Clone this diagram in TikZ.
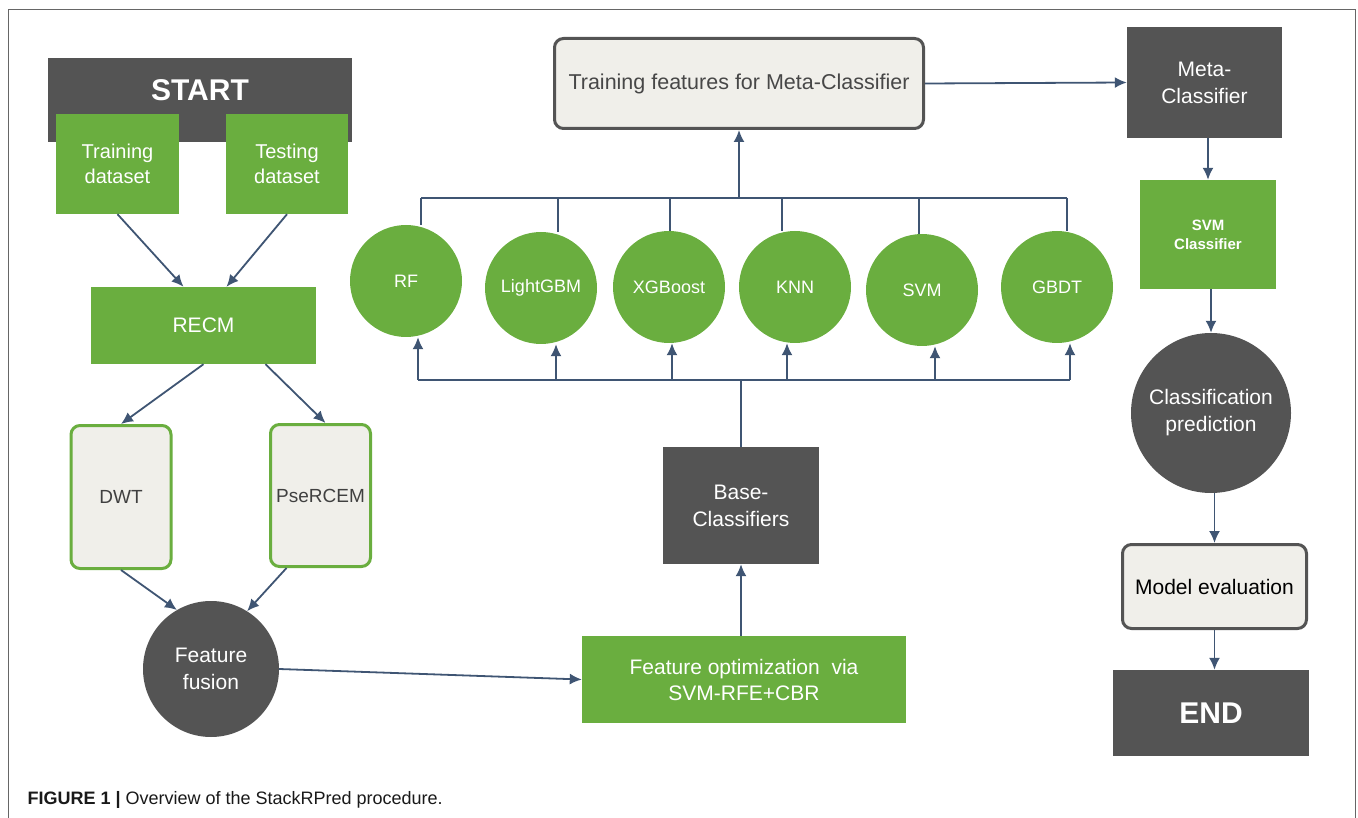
\documentclass[tikz,border=0pt]{standalone}
\usepackage{fontspec}
\setmainfont{Liberation Sans}
\usepackage{tikz}
\usetikzlibrary{arrows.meta, positioning}
\definecolor{leafgreen}{HTML}{6AAE3F}
\definecolor{slate}{HTML}{545454}
\definecolor{paper}{HTML}{F0EFEA}
\definecolor{wire}{HTML}{3F5573}
\newcommand{\fsz}[2]{\fontsize{#1}{#2}\selectfont}
\tikzset{
greenbox/.style={rectangle, fill=leafgreen, text=white, inner sep=0pt, align=center, font=\fsz{20}{25}},
darkbox/.style={rectangle, fill=slate, text=white, inner sep=0pt, align=center, font=\fsz{21}{27}},
softbox/.style={rectangle, rounded corners=9pt, fill=paper, line width=3pt, inner sep=0pt, align=center},
learner/.style={circle, fill=leafgreen, text=white, minimum size=112pt, inner sep=0pt, font=\fsz{18}{21}},
blob/.style={circle, fill=slate, text=white, inner sep=0pt, align=center, font=\fsz{21}{27}},
flow/.style={-{Latex[length=12pt,width=11pt]}, color=wire, line width=1.8pt}, % edges with solid heads
link/.style={color=wire, line width=1.8pt}, % plain bus lines
}
\begin{document}
\begin{tikzpicture}[x=1pt, y=-1pt]
  \useasboundingbox (0,0) rectangle (1358,818);
  \draw[black!60, line width=1pt] (8,818) -- (8,10) -- (1355,10) -- (1355,818);%frame

  % left column
  \node[darkbox, minimum width=304pt, minimum height=84pt] (start) at (200,100) {};
  \node[text=white, font=\bfseries\fsz{30}{30}] (starttag) at (200,90) {START};
  \node[greenbox, minimum width=123pt, minimum height=100pt] (train) at (117.5,164) {Training\\dataset};
  \node[greenbox, minimum width=122pt, minimum height=100pt] (test) at (287,164) {Testing\\dataset};
  \node[greenbox, minimum width=225pt, minimum height=77pt, font=\fsz{21}{27}] (recm) at (203.5,325.5) {RECM};
  \node[softbox, draw=leafgreen, minimum width=100pt, minimum height=143pt, text=black!75, font=\fsz{19}{23}] (dwt) at (121,497) {DWT};
  \node[softbox, draw=leafgreen, minimum width=100pt, minimum height=142pt, text=black!75, font=\fsz{19}{23}] (pse) at (320.5,495.5) {PseRCEM};
  \node[blob, minimum size=136pt] (fusion) at (211,669) {Feature\\fusion};

  % middle column
  \node[greenbox, minimum width=324pt, minimum height=87pt, font=\fsz{21}{26}] (opt) at (744,679.5) {Feature optimization~ via\\SVM-RFE+CBR};
  \node[darkbox, minimum width=156pt, minimum height=117pt] (base) at (741,505.5) {Base-\\Classifiers};
  \node[learner] (rf) at (406,281) {RF};
  \node[learner] (lgbm) at (541,288) {LightGBM};
  \node[learner] (xgb) at (669,287) {XGBoost};
  \node[learner] (knn) at (795,287) {KNN};
  \node[learner] (svm) at (922,290) {SVM};
  \node[learner] (gbdt) at (1057,287) {GBDT};
  \node[softbox, draw=slate, minimum width=369pt, minimum height=90pt, text=black!72, font=\fsz{21.5}{26}] (feat) at (739,83.5) {Training features for Meta-Classifier};
  \coordinate (topbus) at (739,198);
  \coordinate (lowbus) at (741,380);

  % right column
  \node[darkbox, minimum width=155pt, minimum height=111pt] (meta) at (1204.5,82.5) {Meta-\\Classifier};
  \node[greenbox, minimum width=136pt, minimum height=109pt, font=\bfseries\fsz{15}{19}] (svmc) at (1208,234.5) {SVM\\Classifier};
  \node[blob, minimum size=160pt] (cls) at (1211,413) {Classification\\prediction};
  \node[softbox, draw=slate, minimum width=184pt, minimum height=84pt, text=black, font=\fsz{21}{26}] (eval) at (1214.5,586.5) {Model evaluation};
  \node[darkbox, minimum width=196pt, minimum height=86pt, font=\bfseries\fsz{30}{30}] (finish) at (1211,713) {END};

  \node[anchor=west, font=\fsz{18}{22}, text=black!90] (caption) at (24,800) {\textbf{FIGURE 1 |} Overview of the StackRPred procedure.};

  \path[flow]
  (train.south) edge ([xshift=-20pt]recm.north)
  (test.south) edge ([xshift=23pt]recm.north)
  (recm.south) edge (dwt.north)
  ([xshift=62pt]recm.south) edge ([xshift=5pt]pse.north)
  (dwt.south) edge (fusion.120)
  ([xshift=-34pt]pse.south) edge (fusion.58)
  (fusion.east) edge (opt.west)
  (base.south |- opt.north) edge (base.south);

  % lower bus into the base learners
  \path[link] (base.north) edge (lowbus);
  \draw[link] ([xshift=12pt]rf.south |- lowbus) -- ([xshift=13pt]gbdt.south |- lowbus);
  \path[flow]
  ([xshift=12pt]rf.south |- lowbus) edge ([xshift=12pt]rf.south)
  ([xshift=15pt]lgbm.south |- lowbus) edge ([xshift=15pt]lgbm.south)
  ([xshift=3pt]xgb.south |- lowbus) edge ([xshift=3pt]xgb.south)
  ([xshift=-8pt]knn.south |- lowbus) edge ([xshift=-8pt]knn.south)
  ([xshift=13pt]svm.south |- lowbus) edge ([xshift=13pt]svm.south)
  ([xshift=13pt]gbdt.south |- lowbus) edge ([xshift=13pt]gbdt.south);

  % upper bus out of the base learners
  \draw[link] ([xshift=15pt]rf.north |- topbus) -- ([xshift=10pt]gbdt.north |- topbus);
  \path[link]
  ([xshift=15pt]rf.north |- topbus) edge ([xshift=15pt]rf.north)
  ([xshift=17pt]lgbm.north |- topbus) edge ([xshift=17pt]lgbm.north)
  ([xshift=1pt]xgb.north |- topbus) edge ([xshift=1pt]xgb.north)
  ([xshift=-13pt]knn.north |- topbus) edge ([xshift=-13pt]knn.north)
  ([xshift=-3pt]svm.north |- topbus) edge ([xshift=-3pt]svm.north)
  ([xshift=10pt]gbdt.north |- topbus) edge ([xshift=10pt]gbdt.north);
  \path[flow] (topbus) edge (feat.south);

  \path[flow]
  (feat.east) edge (meta.west)
  (svmc.north |- meta.south) edge (svmc.north)
  (cls.north |- svmc.south) edge (cls.north)
  (eval.north |- cls.south) edge (eval.north)
  (eval.south) edge (eval.south |- finish.north);
\end{tikzpicture}
\end{document}
